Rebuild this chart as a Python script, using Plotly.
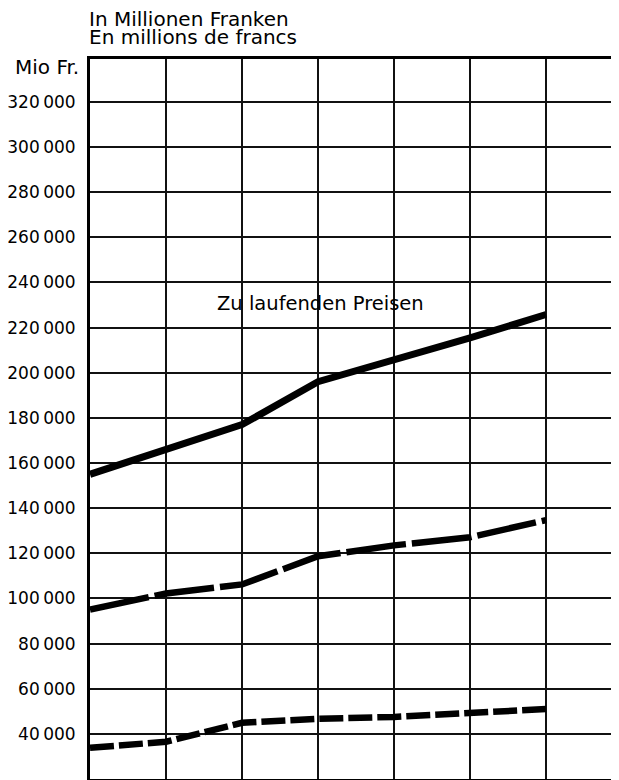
import plotly.graph_objects as go

years = [1978, 1979, 1980, 1981, 1982, 1983, 1984]
series_solid = [155000, 165800, 177000, 196000, 205300, 215400, 225800]
series_longdash = [95100, 102200, 106200, 118700, 123500, 127100, 134700]
series_shortdash = [33800, 36500, 44900, 46700, 47500, 48900, 51000]

tick_vals = list(range(40000, 320001, 20000))
tick_text = [f"{v // 1000}\u2009000" for v in tick_vals]

FONT = "DejaVu Sans, Liberation Sans, sans-serif"

fig = go.Figure()
fig.add_trace(go.Scatter(x=years, y=series_solid, mode="lines",
                         line=dict(color="black", width=7), showlegend=False))
fig.add_trace(go.Scatter(x=years, y=series_longdash, mode="lines",
                         line=dict(color="black", width=6.5, dash="60px,6px"), showlegend=False))
fig.add_trace(go.Scatter(x=years, y=series_shortdash, mode="lines",
                         line=dict(color="black", width=6.5, dash="24px,5px"), showlegend=False))

# page body has an 8px margin, so the figure is made 8px smaller and margins shifted
fig.update_layout(
    width=611, height=772,
    margin=dict(l=82, r=0, t=51, b=1, autoexpand=False),
    paper_bgcolor="white", plot_bgcolor="white",
    font=dict(family=FONT, color="black"),
    xaxis=dict(range=[1978, 1984.96], dtick=1, tick0=1978, showticklabels=False,
               showgrid=True, gridcolor="#111", gridwidth=1.5, zeroline=False,
               showline=True, linecolor="black", linewidth=3, mirror=True, ticks="",
               automargin=False),
    yaxis=dict(range=[20000, 339000], tickmode="array", tickvals=tick_vals, ticktext=tick_text,
               showgrid=True, gridcolor="#111", gridwidth=1.5, zeroline=False,
               showline=True, linecolor="black", linewidth=3, ticks="",
               ticklabelstandoff=8, tickfont=dict(size=17, family=FONT),
               automargin=False),
    annotations=[
        dict(text="In Millionen Franken", xref="paper", yref="paper", x=0, y=1,
             xanchor="left", yanchor="middle", yshift=40, xshift=-3, showarrow=False,
             font=dict(size=20)),
        dict(text="En millions de francs", xref="paper", yref="paper", x=0, y=1,
             xanchor="left", yanchor="middle", yshift=22.5, xshift=-3, showarrow=False,
             font=dict(size=20)),
        dict(text="Mio Fr.", xref="paper", yref="y", x=0, y=335500,
             xanchor="right", yanchor="middle", xshift=-9, showarrow=False,
             font=dict(size=20)),
        dict(text="Zu laufenden Preisen", xref="x", yref="y", x=1979.645, y=230700,
             xanchor="left", yanchor="middle", showarrow=False,
             font=dict(size=19.5)),
    ],
)

fig.write_html("out.html")
